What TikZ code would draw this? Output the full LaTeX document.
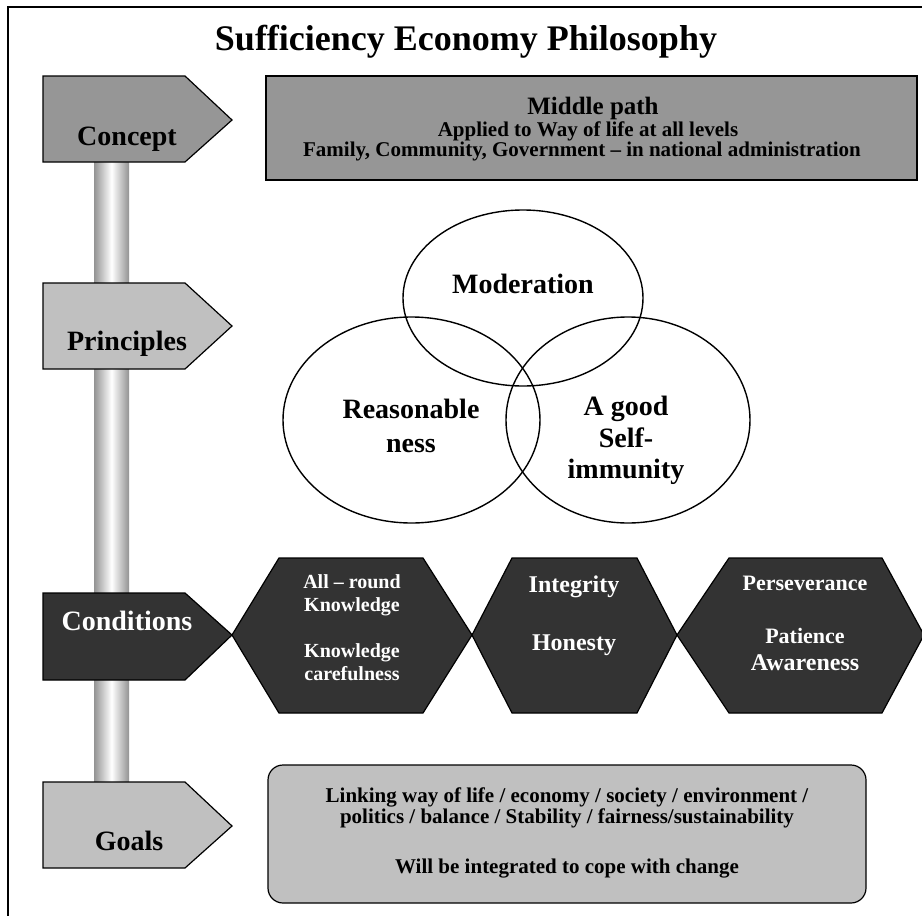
\documentclass[tikz,border=0pt]{standalone}
\usepackage{fontspec}
\setmainfont{Liberation Serif}
\definecolor{midgray}{HTML}{969696}
\definecolor{lightgray}{HTML}{C0C0C0}
\definecolor{darkfill}{HTML}{333333}
\begin{document}
\begin{tikzpicture}[x=1pt,y=-1pt,
  shp/.style={draw=black,line width=1.2pt,line join=miter},
  lbl/.style={inner sep=0pt,anchor=base,font=\bfseries\fontsize{#1}{#1}\selectfont},
  wlbl/.style={lbl=#1,text=white},
  venn/.style={draw=black,line width=1.4pt}]
\useasboundingbox (0,0) rectangle (922,916);
\fill[white] (0,0) rectangle (922,916);
% frame
\draw[line width=1.5pt] (8,930) -- (8,7) -- (930,7);
% title
\node[lbl=36] (title) at (466,50) {Sufficiency Economy Philosophy};
% pole
\shade[left color=gray!85,right color=gray!85,middle color=white] (94,160) rectangle (129,784);
% sign posts
\path[shp,fill=midgray] (43,76) -- (185,76) -- (232,120) -- (185,162) -- (43,162) -- cycle;
\path[shp,fill=lightgray] (43,283) -- (185,283) -- (232,326) -- (185,369) -- (43,369) -- cycle;
\path[shp,fill=darkfill] (43,593) -- (185,593) -- (232,635) -- (185,680) -- (43,680) -- cycle;
\path[shp,fill=lightgray] (43,782) -- (185,782) -- (232,826) -- (185,868) -- (43,868) -- cycle;
\node[lbl=28] (concept) at (127,145) {Concept};
\node[lbl=28] (principles) at (127,350) {Principles};
\node[wlbl=28] (conditions) at (127,630) {Conditions};
\node[lbl=28] (goals) at (129,850) {Goals};
% middle path box
\path[shp,fill=midgray] (266,76) rectangle (917,180);
\node[lbl=25] (mp1) at (593,114) {Middle path};
\node[lbl=21] (mp2) at (588,136) {Applied to Way of life at all levels};
\node[lbl=21] (mp3) at (582,156) {Family, Community, Government -- in national administration};
% venn
\draw[venn] (523,298) ellipse [x radius=120pt,y radius=88pt];
\draw[venn] (411.5,420) ellipse [x radius=128.5pt,y radius=103pt];
\draw[venn] (628,420) ellipse [x radius=122pt,y radius=103pt];
\node[lbl=28] (moderation) at (523,293) {Moderation};
\node[lbl=28] (reas1) at (411,418) {Reasonable};
\node[lbl=28] (reas2) at (411,452) {ness};
\node[lbl=28] (good1) at (626,415) {A good};
\node[lbl=28] (good2) at (626,447) {Self-};
\node[lbl=28] (good3) at (626,478) {immunity};
% hexagons
\path[shp,fill=darkfill] (232,635) -- (279,558) -- (423,558) -- (472,635) -- (423,713) -- (279,713) -- cycle;
\path[shp,fill=darkfill] (472,635) -- (512,558) -- (637,558) -- (677,635) -- (637,713) -- (512,713) -- cycle;
\path[shp,fill=darkfill] (677,635) -- (729,558) -- (882,558) -- (924,635) -- (882,713) -- (729,713) -- cycle;
\node[wlbl=20] (h1a) at (352,588) {All -- round};
\node[wlbl=20] (h1b) at (352,611) {Knowledge};
\node[wlbl=20] (h1c) at (352,657) {Knowledge};
\node[wlbl=20] (h1d) at (352,680) {carefulness};
\node[wlbl=24] (h2a) at (574,592) {Integrity};
\node[wlbl=24] (h2b) at (574,650) {Honesty};
\node[wlbl=22] (h3a) at (805,590) {Perseverance};
\node[wlbl=22] (h3b) at (805,643) {Patience};
\node[wlbl=24] (h3c) at (805,670) {Awareness};
% goals box
\path[shp,fill=lightgray,rounded corners=15pt] (268,765) rectangle (866,903);
\node[lbl=21] (g1) at (567,802) {Linking way of life / economy / society / environment /};
\node[lbl=21] (g2) at (567,823) {politics / balance / Stability / fairness/sustainability};
\node[lbl=21] (g3) at (567,873) {Will be integrated to cope with change};
\end{tikzpicture}
\end{document}
